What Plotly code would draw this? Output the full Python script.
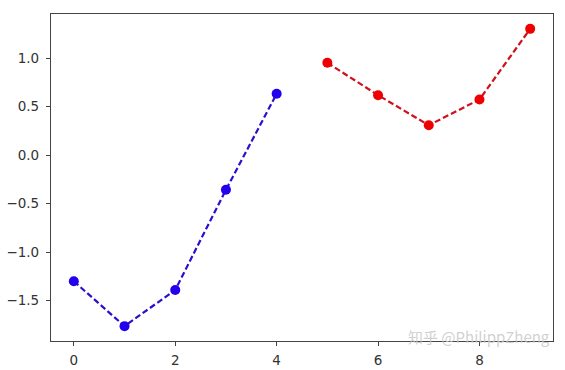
import plotly.graph_objects as go

x_blue = [0, 1, 2, 3, 4]
y_blue = [-1.30, -1.763, -1.39, -0.357, 0.633]
x_red = [5, 6, 7, 8, 9]
y_red = [0.953, 0.619, 0.309, 0.574, 1.303]

x_ticks = [0, 2, 4, 6, 8]
y_ticks = [-1.5, -1.0, -0.5, 0.0, 0.5, 1.0]
y_tick_labels = ["\u22121.5", "\u22121.0", "\u22120.5", "0.0", "0.5", "1.0"]

fig = go.Figure()
fig.add_trace(go.Scatter(
    x=x_blue, y=y_blue, mode="lines+markers",
    line=dict(color="#2a0fcc", width=2.2, dash="6px,3px"),
    marker=dict(color="#2200ee", size=10),
    showlegend=False,
))
fig.add_trace(go.Scatter(
    x=x_red, y=y_red, mode="lines+markers",
    line=dict(color="#d0101c", width=2.2, dash="6px,3px"),
    marker=dict(color="#ee0000", size=10),
    showlegend=False,
))

axis_common = dict(
    showgrid=False, zeroline=False, showline=True, mirror=True,
    linecolor="#444444", linewidth=1.2, automargin=False,
    ticks="outside", ticklen=4, tickwidth=1, tickcolor="#444444",
    tickfont=dict(family="DejaVu Sans", size=13.5, color="#333333"),
)

fig.update_xaxes(range=[-0.45, 9.45], tickvals=x_ticks, ticklabelstandoff=3, **axis_common)
fig.update_yaxes(range=[-1.916, 1.456], tickvals=y_ticks, ticktext=y_tick_labels,
                 ticklabelstandoff=4, **axis_common)

fig.add_annotation(
    text="知乎 @PhilippZheng", xref="paper", yref="paper",
    x=0.998, y=0.015, xanchor="right", yanchor="middle", showarrow=False,
    font=dict(family="Noto Sans CJK SC", size=15, color="rgba(200,200,200,0.85)"),
)

fig.update_layout(
    width=565, height=370,
    margin=dict(l=51, r=12, t=14, b=29),
    paper_bgcolor="white", plot_bgcolor="white",
)

fig.write_html("out.html")
